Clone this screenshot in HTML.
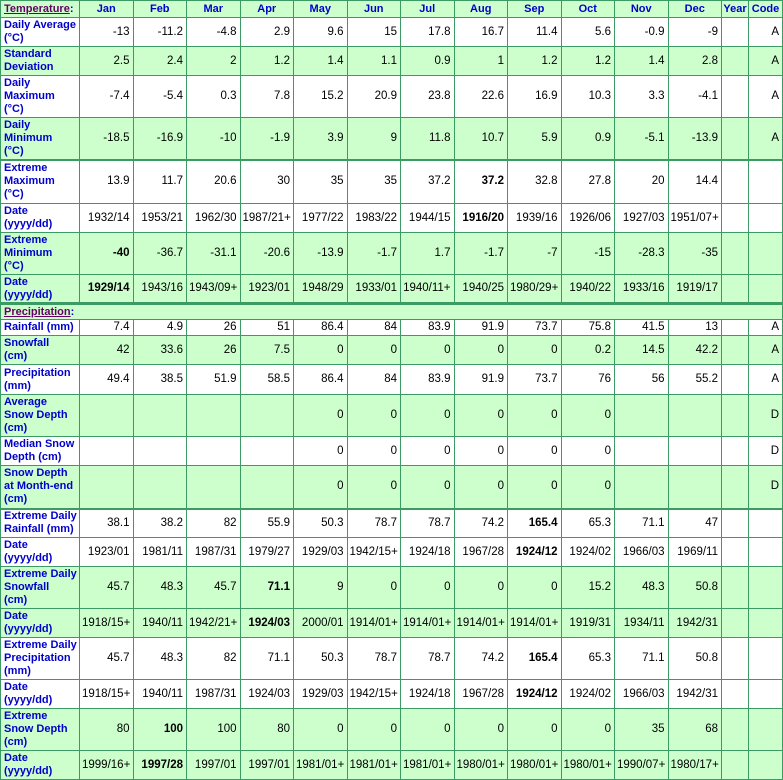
<!DOCTYPE html>
<html><head><meta charset="utf-8"><style>
body{margin:0;background:#fff;}
table{border-collapse:collapse;table-layout:fixed;width:782px;position:absolute;left:0;top:0;font-family:"Liberation Sans",sans-serif;font-size:11.5px;}
td{border:1px solid #3c9a64;padding:0 3px 0 2px;text-align:right;color:#000;line-height:13px;overflow:hidden;white-space:nowrap;}
td.l{text-align:left;font-weight:bold;color:#0000cc;font-size:11px;padding-left:3px;padding-right:0;}
tr.h td{text-align:center;font-weight:bold;color:#0000cc;font-size:11px;padding:0;}
.g td{background:#ccffcc;}
.w td{background:#fff;}
.sec{text-decoration:underline;color:#660066;}
tr.thick td{border-top:3px solid #3c9a64;}
tr.mid td{border-top:2px solid #3c9a64;}
</style></head><body>
<table>
<colgroup><col style="width:79px"><col span="12" style="width:53.5px"><col style="width:27px"><col style="width:34px"></colgroup>
<tr class="h g" style="height:17px"><td class="l" style="text-align:left;padding-left:3px"><span class="sec">Temperature</span>:</td><td>Jan</td><td>Feb</td><td>Mar</td><td>Apr</td><td>May</td><td>Jun</td><td>Jul</td><td>Aug</td><td>Sep</td><td>Oct</td><td>Nov</td><td>Dec</td><td>Year</td><td>Code</td></tr>
<tr class="w" style="height:29px"><td class="l">Daily Average<br>(°C)</td><td>-13</td><td>-11.2</td><td>-4.8</td><td>2.9</td><td>9.6</td><td>15</td><td>17.8</td><td>16.7</td><td>11.4</td><td>5.6</td><td>-0.9</td><td>-9</td><td></td><td>A</td></tr>
<tr class="g" style="height:29px"><td class="l">Standard<br>Deviation</td><td>2.5</td><td>2.4</td><td>2</td><td>1.2</td><td>1.4</td><td>1.1</td><td>0.9</td><td>1</td><td>1.2</td><td>1.2</td><td>1.4</td><td>2.8</td><td></td><td>A</td></tr>
<tr class="w" style="height:42px"><td class="l">Daily<br>Maximum<br>(°C)</td><td>-7.4</td><td>-5.4</td><td>0.3</td><td>7.8</td><td>15.2</td><td>20.9</td><td>23.8</td><td>22.6</td><td>16.9</td><td>10.3</td><td>3.3</td><td>-4.1</td><td></td><td>A</td></tr>
<tr class="g" style="height:42px"><td class="l">Daily<br>Minimum<br>(°C)</td><td>-18.5</td><td>-16.9</td><td>-10</td><td>-1.9</td><td>3.9</td><td>9</td><td>11.8</td><td>10.7</td><td>5.9</td><td>0.9</td><td>-5.1</td><td>-13.9</td><td></td><td>A</td></tr>
<tr class="w mid" style="height:44px"><td class="l">Extreme<br>Maximum<br>(°C)</td><td>13.9</td><td>11.7</td><td>20.6</td><td>30</td><td>35</td><td>35</td><td>37.2</td><td><b>37.2</b></td><td>32.8</td><td>27.8</td><td>20</td><td>14.4</td><td></td><td></td></tr>
<tr class="w" style="height:29px"><td class="l">Date<br>(yyyy/dd)</td><td>1932/14</td><td>1953/21</td><td>1962/30</td><td>1987/21+</td><td>1977/22</td><td>1983/22</td><td>1944/15</td><td><b>1916/20</b></td><td>1939/16</td><td>1926/06</td><td>1927/03</td><td>1951/07+</td><td></td><td></td></tr>
<tr class="g" style="height:42px"><td class="l">Extreme<br>Minimum<br>(°C)</td><td><b>-40</b></td><td>-36.7</td><td>-31.1</td><td>-20.6</td><td>-13.9</td><td>-1.7</td><td>1.7</td><td>-1.7</td><td>-7</td><td>-15</td><td>-28.3</td><td>-35</td><td></td><td></td></tr>
<tr class="g" style="height:29px"><td class="l">Date<br>(yyyy/dd)</td><td><b>1929/14</b></td><td>1943/16</td><td>1943/09+</td><td>1923/01</td><td>1948/29</td><td>1933/01</td><td>1940/11+</td><td>1940/25</td><td>1980/29+</td><td>1940/22</td><td>1933/16</td><td>1919/17</td><td></td><td></td></tr>
<tr class="g thick" style="height:16px"><td class="l" colspan="15" style="text-align:left"><span class="sec">Precipitation</span>:</td></tr>
<tr class="w" style="height:16px"><td class="l">Rainfall (mm)</td><td>7.4</td><td>4.9</td><td>26</td><td>51</td><td>86.4</td><td>84</td><td>83.9</td><td>91.9</td><td>73.7</td><td>75.8</td><td>41.5</td><td>13</td><td></td><td>A</td></tr>
<tr class="g" style="height:29px"><td class="l">Snowfall<br>(cm)</td><td>42</td><td>33.6</td><td>26</td><td>7.5</td><td>0</td><td>0</td><td>0</td><td>0</td><td>0</td><td>0.2</td><td>14.5</td><td>42.2</td><td></td><td>A</td></tr>
<tr class="w" style="height:30px"><td class="l">Precipitation<br>(mm)</td><td>49.4</td><td>38.5</td><td>51.9</td><td>58.5</td><td>86.4</td><td>84</td><td>83.9</td><td>91.9</td><td>73.7</td><td>76</td><td>56</td><td>55.2</td><td></td><td>A</td></tr>
<tr class="g" style="height:42px"><td class="l">Average<br>Snow Depth<br>(cm)</td><td></td><td></td><td></td><td></td><td>0</td><td>0</td><td>0</td><td>0</td><td>0</td><td>0</td><td></td><td></td><td></td><td>D</td></tr>
<tr class="w" style="height:29px"><td class="l">Median Snow<br>Depth (cm)</td><td></td><td></td><td></td><td></td><td>0</td><td>0</td><td>0</td><td>0</td><td>0</td><td>0</td><td></td><td></td><td></td><td>D</td></tr>
<tr class="g" style="height:43px"><td class="l">Snow Depth<br>at Month-end<br>(cm)</td><td></td><td></td><td></td><td></td><td>0</td><td>0</td><td>0</td><td>0</td><td>0</td><td>0</td><td></td><td></td><td></td><td>D</td></tr>
<tr class="w mid" style="height:29px"><td class="l">Extreme Daily<br>Rainfall (mm)</td><td>38.1</td><td>38.2</td><td>82</td><td>55.9</td><td>50.3</td><td>78.7</td><td>78.7</td><td>74.2</td><td><b>165.4</b></td><td>65.3</td><td>71.1</td><td>47</td><td></td><td></td></tr>
<tr class="w" style="height:29px"><td class="l">Date<br>(yyyy/dd)</td><td>1923/01</td><td>1981/11</td><td>1987/31</td><td>1979/27</td><td>1929/03</td><td>1942/15+</td><td>1924/18</td><td>1967/28</td><td><b>1924/12</b></td><td>1924/02</td><td>1966/03</td><td>1969/11</td><td></td><td></td></tr>
<tr class="g" style="height:42px"><td class="l">Extreme Daily<br>Snowfall<br>(cm)</td><td>45.7</td><td>48.3</td><td>45.7</td><td><b>71.1</b></td><td>9</td><td>0</td><td>0</td><td>0</td><td>0</td><td>15.2</td><td>48.3</td><td>50.8</td><td></td><td></td></tr>
<tr class="g" style="height:29px"><td class="l">Date<br>(yyyy/dd)</td><td>1918/15+</td><td>1940/11</td><td>1942/21+</td><td><b>1924/03</b></td><td>2000/01</td><td>1914/01+</td><td>1914/01+</td><td>1914/01+</td><td>1914/01+</td><td>1919/31</td><td>1934/11</td><td>1942/31</td><td></td><td></td></tr>
<tr class="w" style="height:42px"><td class="l">Extreme Daily<br>Precipitation<br>(mm)</td><td>45.7</td><td>48.3</td><td>82</td><td>71.1</td><td>50.3</td><td>78.7</td><td>78.7</td><td>74.2</td><td><b>165.4</b></td><td>65.3</td><td>71.1</td><td>50.8</td><td></td><td></td></tr>
<tr class="w" style="height:29px"><td class="l">Date<br>(yyyy/dd)</td><td>1918/15+</td><td>1940/11</td><td>1987/31</td><td>1924/03</td><td>1929/03</td><td>1942/15+</td><td>1924/18</td><td>1967/28</td><td><b>1924/12</b></td><td>1924/02</td><td>1966/03</td><td>1942/31</td><td></td><td></td></tr>
<tr class="g" style="height:42px"><td class="l">Extreme<br>Snow Depth<br>(cm)</td><td>80</td><td><b>100</b></td><td>100</td><td>80</td><td>0</td><td>0</td><td>0</td><td>0</td><td>0</td><td>0</td><td>35</td><td>68</td><td></td><td></td></tr>
<tr class="g" style="height:29px"><td class="l">Date<br>(yyyy/dd)</td><td>1999/16+</td><td><b>1997/28</b></td><td>1997/01</td><td>1997/01</td><td>1981/01+</td><td>1981/01+</td><td>1981/01+</td><td>1980/01+</td><td>1980/01+</td><td>1980/01+</td><td>1990/07+</td><td>1980/17+</td><td></td><td></td></tr>
</table>
</body></html>
